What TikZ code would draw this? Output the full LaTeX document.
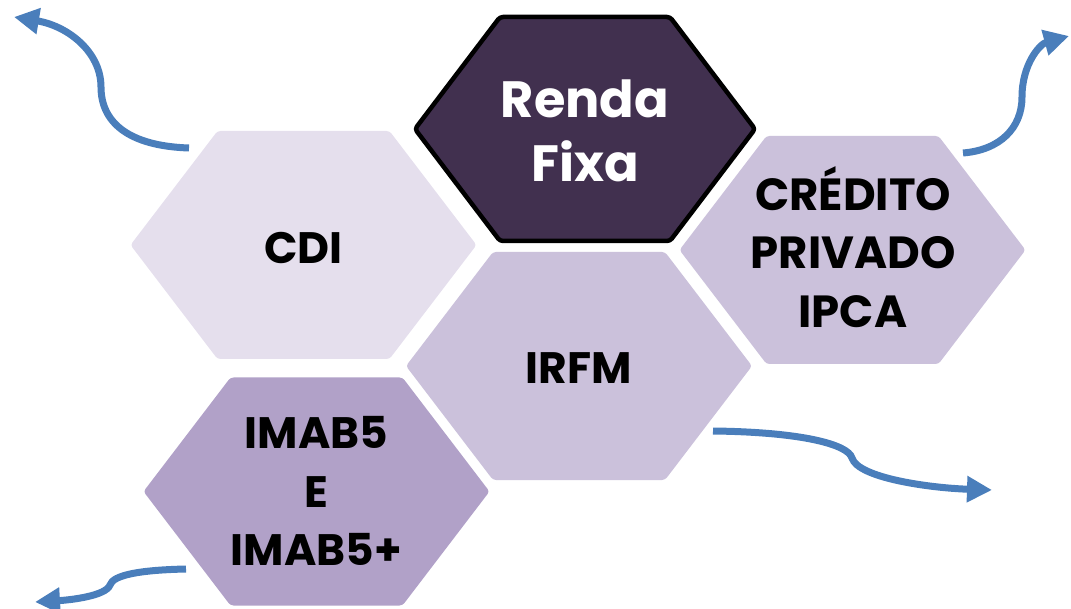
\documentclass[tikz,border=0pt]{standalone}
\usepackage{fontspec}
\setmainfont{Poppins}
\usetikzlibrary{arrows.meta}
\definecolor{hexA}{HTML}{E5DFED}
\definecolor{hexB}{HTML}{CBC1DB}
\definecolor{hexC}{HTML}{B1A1C8}
\definecolor{hexD}{HTML}{41304F}
\definecolor{arrowblue}{HTML}{4A7EBB}
\tikzset{
  hexshape/.style={rounded corners=3pt},
  hexlabel/.style={align=center, inner sep=0pt, font=\bfseries\fontsize{44}{58.5}\selectfont},
  flow/.style={draw=arrowblue, line width=7pt, -{Triangle[length=25pt,width=25pt]}}
}
\begin{document}
\begin{tikzpicture}[x=1pt,y=-1pt]
\useasboundingbox (0,0) rectangle (1071,609);
% hexagons
\path[hexshape, fill=hexA, shift={(303.5,245)}] (-173,0) -- (-86,-114) -- (86,-114) -- (173,0) -- (86,114) -- (-86,114) -- cycle;
\path[hexshape, fill=hexB, shift={(852.5,250)}] (-173,0) -- (-86,-114) -- (86,-114) -- (173,0) -- (86,114) -- (-86,114) -- cycle;
\path[hexshape, fill=hexB, shift={(579,366)}] (-173,0) -- (-86,-114) -- (86,-114) -- (173,0) -- (86,114) -- (-86,114) -- cycle;
\path[hexshape, fill=hexC, shift={(316.5,491.5)}] (-173,0) -- (-86,-114) -- (86,-114) -- (173,0) -- (86,114) -- (-86,114) -- cycle;
\path[hexshape, fill=hexD, draw=black, line width=4.5pt, line join=round, shift={(585,129)}] (-170,0) -- (-85,-112) -- (85,-112) -- (170,0) -- (85,112) -- (-85,112) -- cycle;
% labels
\node[hexlabel, text=white, font=\bfseries\fontsize{51}{64}\selectfont] (renda) at (585,131) {Renda\\Fixa};
\node[hexlabel] (cdi) at (303.5,248) {CDI};
\node[hexlabel, font=\bfseries\fontsize{45}{58.5}\selectfont] (credito) at (853,247) {CRÉDITO\\PRIVADO\\IPCA};
\node[hexlabel] (irfm) at (579,368) {IRFM};
\node[hexlabel] (imab) at (316.5,491) {IMAB5\\E\\IMAB5+};
% arrows
\coordinate (a1s) at (189,148);
\coordinate (a1e) at (14,17);
\coordinate (a2s) at (963,153);
\coordinate (a2e) at (1069,36);
\coordinate (a3s) at (713,431);
\coordinate (a3e) at (992,490);
\coordinate (a4s) at (186,569);
\coordinate (a4e) at (35,602);
\draw[flow] (a1s) .. controls (128,146) and (101,122) .. (101,87) .. controls (101,52) and (68,26) .. (a1e);
\draw[flow] (a2s) .. controls (1000,150) and (1022,128) .. (1022,97) .. controls (1022,64) and (1040,44) .. (a2e);
\draw[flow] (a3s) .. controls (800,432) and (848,444) .. (852,458) .. controls (858,478) and (930,488) .. (a3e);
\draw[flow] (a4s) .. controls (140,570) and (113,575) .. (110,585) .. controls (106,596) and (70,600) .. (a4e);
\end{tikzpicture}
\end{document}
